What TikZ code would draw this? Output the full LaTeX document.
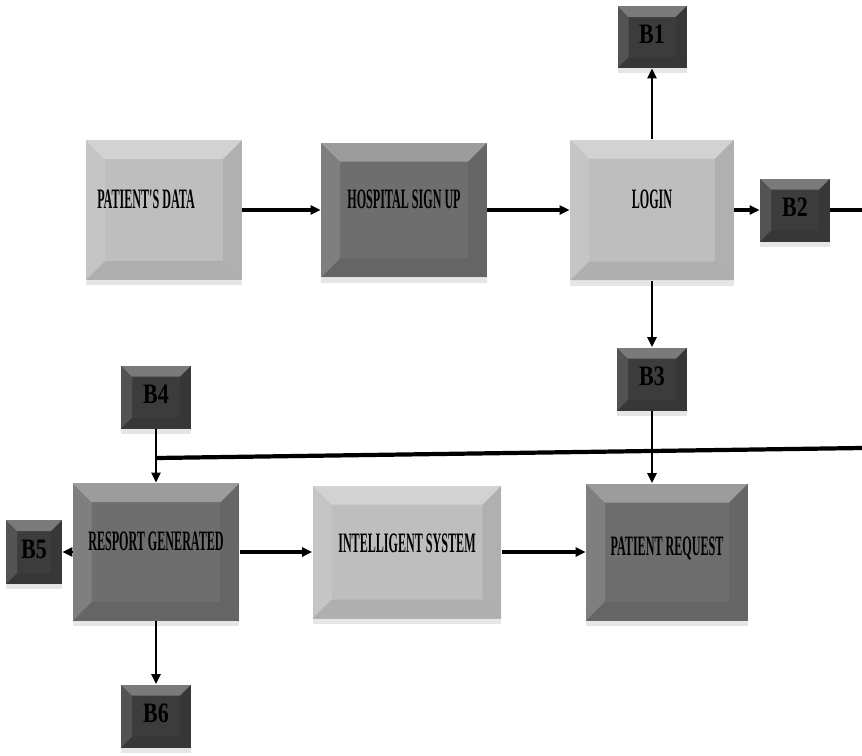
\documentclass[tikz,border=0pt]{standalone}
\usepackage{fontspec}
\setmainfont{Liberation Serif}
\newfontfamily\narrowFont{Liberation Serif}[FakeStretch=0.43]
\newfontfamily\tallFont{Liberation Serif}[FakeStretch=0.78]
\usetikzlibrary{arrows.meta,shadows}

\definecolor{lightFill}{HTML}{BEBEBE}
\definecolor{darkFill}{HTML}{6E6E6E}
\definecolor{tinyFill}{HTML}{3C3C3C}

%% Bevelled faces of a box, #1 is the depth of the bevel.
\newcommand{\bevelFaces}[1]{%
  \fill[white,opacity=0.32] (path picture bounding box.north west)
    -- (path picture bounding box.north east)
    -- ([xshift=-#1,yshift=-#1]path picture bounding box.north east)
    -- ([xshift=#1,yshift=-#1]path picture bounding box.north west) -- cycle;
  \fill[white,opacity=0.12] (path picture bounding box.north west)
    -- ([xshift=#1,yshift=-#1]path picture bounding box.north west)
    -- ([xshift=#1,yshift=#1]path picture bounding box.south west)
    -- (path picture bounding box.south west) -- cycle;
  \fill[black,opacity=0.07] (path picture bounding box.north east)
    -- ([xshift=-#1,yshift=-#1]path picture bounding box.north east)
    -- ([xshift=-#1,yshift=#1]path picture bounding box.south east)
    -- (path picture bounding box.south east) -- cycle;
  \fill[black,opacity=0.08] (path picture bounding box.south west)
    -- ([xshift=#1,yshift=#1]path picture bounding box.south west)
    -- ([xshift=-#1,yshift=#1]path picture bounding box.south east)
    -- (path picture bounding box.south east) -- cycle;
}

\begin{document}
\begin{tikzpicture}[%%
  x=0.02cm,y=-0.02cm,%%
  bigBox/.style={rectangle,inner sep=0pt,text depth=0.45cm,%%
    font=\narrowFont\bfseries\fontsize{16}{17}\selectfont,%%
    drop shadow={shadow xshift=0pt,shadow yshift=-3pt,opacity=0.2},%%
    path picture={\bevelFaces{0.38cm}}},%%
  lightBox/.style={bigBox,fill=lightFill},%%
  darkBox/.style={bigBox,fill=darkFill},%%
  tinyBox/.style={rectangle,inner sep=0pt,fill=tinyFill,%%
    minimum width=1.4cm,minimum height=1.26cm,text depth=0.1cm,%%
    font=\tallFont\bfseries\fontsize{16}{17}\selectfont,%%
    drop shadow={shadow xshift=0pt,shadow yshift=-3pt,opacity=0.2},%%
    path picture={\bevelFaces{0.22cm}}},%%
  arrowStyle/.style={-{Triangle[length=0.2cm,width=0.18cm]},very thick},%%
  flatArrow/.style={arrowStyle,line width=1.8pt},%%
  lineStyle/.style={-,line width=2.4pt}%%
]
%%
\useasboundingbox (0,0) rectangle (862,755);
%%
%% The top row.
\node[lightBox,minimum width=3.12cm,minimum height=2.8cm] (patientData) at (164,210) {PATIENT'S DATA\kern0.72cm};
\node[darkBox,minimum width=3.32cm,minimum height=2.7cm] (signUp) at (404,210) {HOSPITAL SIGN UP};
\node[lightBox,minimum width=3.28cm,minimum height=2.82cm] (login) at (652,210) {LOGIN};
%%
%% The small boxes round the login.
\node[tinyBox,minimum width=1.38cm,minimum height=1.24cm] (bOne) at (652,37) {B1};
\node[tinyBox] (bTwo) at (795,210) {B2};
\node[tinyBox] (bThree) at (652,379) {B3};
%%
%% The bottom row.
\node[darkBox,minimum width=3.34cm,minimum height=2.76cm] (report) at (156,552) {RESPORT GENERATED};
\node[lightBox,minimum width=3.78cm,minimum height=2.66cm,text depth=0.34cm] (intelligent) at (407,552) {INTELLIGENT SYSTEM};
\node[darkBox,minimum width=3.24cm,minimum height=2.74cm,text depth=0.22cm] (request) at (667,552) {PATIENT REQUEST};
%%
%% The small boxes round the report.
\node[tinyBox] (bFour) at (156,397) {B4};
\node[tinyBox,minimum width=1.12cm,minimum height=1.28cm] (bFive) at (34,552) {B5};
\node[tinyBox] (bSix) at (156,716) {B6};
%%
%% Free ends of the long lines.
\coordinate (edgeTop) at (862,210);
\coordinate (edgeLow) at (862,448);
\coordinate (joint) at (156,458);
%%
%% Connectors of the top row.
\draw[flatArrow] (patientData) -- (signUp);
\draw[flatArrow] (signUp) -- (login);
\draw[flatArrow] (login) -- (bTwo);
\draw[lineStyle] (bTwo) -- (edgeTop);
\draw[arrowStyle] (login) -- (bOne);
\draw[arrowStyle] (login) -- (bThree);
\draw[arrowStyle] (bThree) -- (bThree |- request.north);
%%
%% The long line back to the report.
\draw[lineStyle] (edgeLow) -- (joint);
\draw[arrowStyle] (bFour) -- (report);
%%
%% Connectors of the bottom row.
\draw[flatArrow] (report) -- (intelligent);
\draw[flatArrow] (intelligent) -- (request);
\draw[arrowStyle] (report) -- (bFive);
\draw[arrowStyle] (report) -- (bSix);
\end{tikzpicture}
\end{document}
